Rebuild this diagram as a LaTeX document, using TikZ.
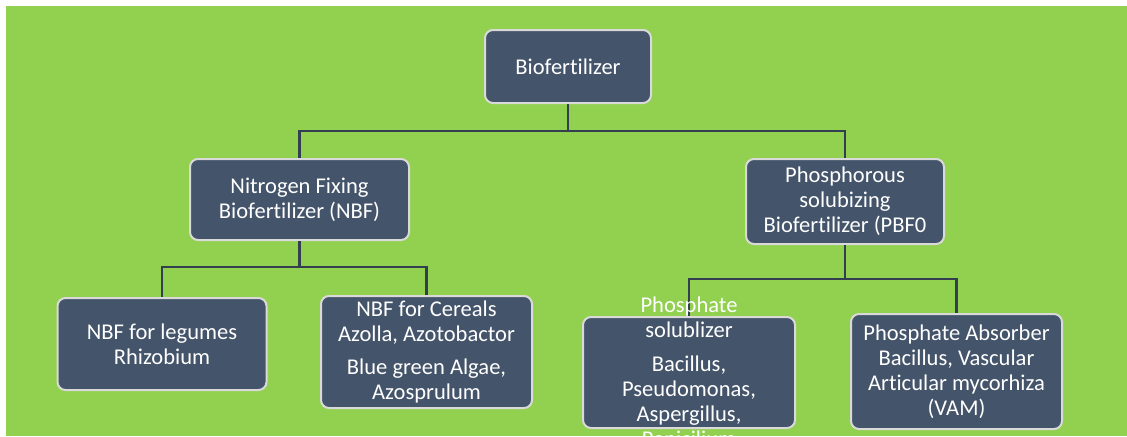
\documentclass[tikz,border=0pt]{standalone}
\usepackage{fontspec}
\setmainfont{Carlito}[Ligatures=NoCommon]
\definecolor{bg}{HTML}{92D050}
\definecolor{boxfill}{HTML}{44546A}
\definecolor{boxedge}{HTML}{D9D9D9}
\definecolor{linecol}{HTML}{333F50}
\begin{document}
\begin{tikzpicture}[x=0.75pt,y=-0.75pt,
  box/.style={draw=boxedge,line width=1.5pt,fill=boxfill,rounded corners=6pt,
    text=white,align=center,inner sep=0pt,
    font=\fontsize{16.9}{18.75}\selectfont},
  txt/.style={text=white,align=center,inner sep=0pt,
    font=\fontsize{16.9}{18.75}\selectfont},
  conn/.style={draw=linecol,line width=1.9pt}]
\useasboundingbox (0,0) rectangle (1127,436);
\fill[white] (0,0) rectangle (1127,436);
\fill[bg] (6,6) rectangle (1127,436);
\node[box,minimum width=166*0.75pt,minimum height=73*0.75pt] (root) at (568,66.5) {Biofertilizer};
\node[box,minimum width=219*0.75pt,minimum height=81*0.75pt] (nbf) at (299.5,199.5) {Nitrogen Fixing\\Biofertilizer (NBF)};
\node[box,minimum width=198*0.75pt,minimum height=85*0.75pt] (pbf) at (845,201.5) {Phosphorous\\solubizing\\Biofertilizer (PBF0};
\node[box,minimum width=209*0.75pt,minimum height=92*0.75pt] (leg) at (162,344) {NBF for legumes\\Rhizobium};
\node[box,minimum width=211*0.75pt,minimum height=112*0.75pt] (cer) at (426.5,352) {NBF for Cereals\\Azolla, Azotobactor\\[6.5pt]Blue green Algae,\\Azosprulum};
\node[box,minimum width=212*0.75pt,minimum height=111*0.75pt] (ps) at (689,372.5) {};
\node[box,minimum width=211*0.75pt,minimum height=115*0.75pt] (pa) at (956.5,371.5) {Phosphate Absorber\\Bacillus, Vascular\\Articular mycorhiza\\(VAM)};
% connectors
\coordinate (j1) at (568,131);
\coordinate (j2) at (299.5,267);
\coordinate (j3) at (845,279);
\draw[conn] (root.south) -- (j1);
\draw[conn] (j1) -| (nbf.north);
\draw[conn] (j1) -| (pbf.north);
\draw[conn] (nbf.south) -- (j2);
\draw[conn] (j2) -| (leg.north);
\draw[conn] (j2) -| (cer.north);
\draw[conn] (pbf.south) -- (j3);
\draw[conn] (j3) -| (ps.north);
\draw[conn] (j3) -| (pa.north);
\node[txt] (pst) at (689,372) {Phosphate\\solublizer\\[6.5pt]Bacillus,\\Pseudomonas,\\Aspergillus,\\Penicilium};
\end{tikzpicture}
\end{document}
